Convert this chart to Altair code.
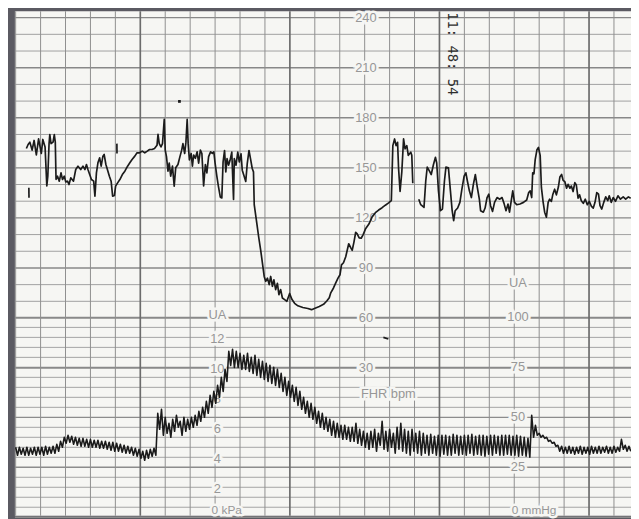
import altair as alt
import pandas as pd

# ---------------- data (time in s, FHR in bpm, UA in mmHg) ----------------
vgrid_minor = [10, 20, 30, 40, 50, 70, 80, 90, 100, 110, 130, 140, 150, 160, 170,
               190, 200, 210, 220, 230, 250]
vgrid_major = [60, 120, 180, 240]
fhr_grid_minor = [70, 80, 100, 110, 130, 140, 160, 170, 190, 200, 220, 230]
fhr_grid_major = [30, 60, 90, 120, 150, 180, 210, 240]
ua_grid_minor = [5, 10, 15, 20, 30, 35, 40, 45, 55, 60, 65, 70, 80, 85, 90, 95]
ua_grid_major = [0, 25, 50, 75, 100]

fhr_label_values = [240, 210, 180, 150, 120, 90, 60, 30]
ua_right_values = [100, 75, 50, 25]
ua_left_kpa = [12, 10, 8, 6, 4, 2]
timestamp = "11: 48: 54"

# FHR trace, part 1
fhr_a_t = [14.3, 15.0, 15.7, 16.6, 17.4, 18.3, 19.2, 20.3, 20.9, 21.8, 22.5, 22.9, 23.4, 23.7,
           24.2, 25.0, 25.5, 25.9, 26.2, 26.8, 27.5, 28.2, 28.8, 29.5, 30.1, 30.8, 31.4, 32.1,
           33.2, 34.1, 35.0, 36.1, 37.0, 37.8, 38.4, 39.0, 39.7, 40.4, 41.3, 41.8, 42.4, 43.0,
           43.7, 44.3, 45.0, 45.5, 46.2, 46.8, 47.6, 48.3, 48.9, 49.6, 50.1, 50.9, 51.8, 52.8,
           53.8, 54.9, 55.8, 56.7, 57.8, 58.7, 59.7, 60.8, 61.8, 62.8, 63.7, 64.7, 65.7, 66.7,
           67.1, 67.6, 68.3, 68.9, 69.6, 70.0, 70.5, 71.1, 71.6, 72.2, 72.9, 73.6, 74.2, 75.1,
           75.9, 76.6, 77.1, 77.8, 78.3, 78.8, 79.2, 79.7, 80.4, 80.9, 81.4, 82.1, 82.8, 83.4,
           84.1, 84.7, 85.4, 86.1, 86.7, 87.4, 88.2, 88.9, 89.5, 90.0, 90.7, 91.3, 92.1, 92.7,
           93.2, 93.8, 94.3, 94.8, 95.4, 96.0, 96.7, 97.4, 97.7, 98.4, 99.1, 99.7, 100.4, 100.9,
           101.5, 102.3, 102.9, 103.6, 104.2, 104.9, 105.4, 105.7, 106.6, 107.5, 108.3, 109.0,
           109.7, 110.3, 111.0, 111.7, 112.3, 113.0, 113.6, 114.3, 115.0, 115.6, 116.3, 117.0,
           117.9, 118.8, 119.9, 120.8, 121.9, 123.2, 125.2, 127.2, 128.7, 130.1, 131.8, 133.5,
           134.8, 135.8, 136.4, 137.5, 138.4, 139.3, 140.1, 140.7, 141.5, 142.4, 143.0, 143.6,
           144.4, 145.0, 145.7, 146.4, 147.0, 147.8, 148.6, 149.4, 150.3, 151.7, 153.0, 154.3,
           155.6, 157.0, 158.3, 159.6, 160.7, 161.3, 162.0, 162.6, 163.2, 163.6, 164.2, 164.9,
           165.6, 166.2, 166.9, 167.5, 168.5, 168.9, 169.3]
fhr_a_bpm = [161.6, 164.0, 165.4, 160.6, 166.4, 157.7, 167.4, 158.6, 167.0, 162.5, 139.2, 145.0,
             164.5, 169.9, 164.5, 165.4, 169.9, 165.4, 143.1, 145.0, 142.0, 147.0, 143.0, 145.0,
             141.6, 142.0, 140.0, 144.0, 142.0, 149.0, 151.0, 149.0, 151.0, 149.0, 152.0, 149.0,
             146.0, 143.0, 142.0, 133.0, 147.0, 153.0, 156.0, 151.0, 157.0, 158.0, 152.0, 149.0,
             145.0, 142.0, 133.0, 133.4, 139.0, 141.0, 143.0, 146.0, 148.0, 151.0, 153.0, 155.0,
             157.0, 159.0, 159.0, 160.0, 159.0, 160.0, 161.0, 161.0, 161.6, 163.5, 170.0, 164.5,
             162.5, 164.5, 179.0, 160.6, 156.7, 148.0, 152.8, 145.0, 151.0, 139.0, 150.0, 152.0,
             156.7, 160.6, 164.5, 158.6, 165.4, 179.0, 164.5, 154.8, 158.6, 151.0, 157.7, 155.7,
             159.6, 152.8, 160.6, 158.6, 139.2, 152.0, 147.0, 156.7, 159.6, 158.6, 159.6, 152.8,
             145.0, 139.2, 132.4, 132.0, 153.5, 160.4, 147.6, 155.5, 151.6, 154.5, 159.4, 131.0,
             155.5, 151.6, 159.4, 153.5, 158.4, 148.6, 145.7, 141.8, 152.5, 160.4, 155.5, 149.6,
             147.6, 128.0, 118.2, 108.4, 100.6, 92.7, 84.9, 82.0, 83.9, 80.0, 84.9, 79.0, 82.9,
             77.0, 80.8, 74.0, 77.0, 72.0, 71.0, 70.0, 74.7, 71.2, 68.8, 67.3, 66.3, 65.7, 65.0,
             65.9, 66.9, 68.2, 70.2, 72.2, 75.1, 78.0, 81.0, 83.9, 85.9, 91.8, 93.1, 96.7, 100.6,
             104.5, 102.2, 100.6, 105.5, 111.4, 110.4, 108.0, 107.8, 110.0, 113.3, 116.3, 120.6,
             123.1, 124.7, 126.1, 127.6, 129.0, 130.4, 163.3, 167.3, 163.3, 165.3, 149.6, 135.9,
             147.6, 167.3, 161.4, 163.3, 157.5, 159.4, 157.5, 140.8]

# FHR trace, part 2 (after the signal gap)
fhr_b_t = [171.7, 172.5, 173.8, 174.5, 175.1, 176.0, 176.7, 177.6, 178.4, 178.9, 179.6, 180.4,
           181.2, 182.0, 182.6, 183.6, 184.4, 185.1, 185.7, 186.3, 187.3, 188.2, 189.0, 189.9,
           190.6, 191.2, 192.0, 192.8, 193.6, 194.4, 195.2, 196.0, 196.5, 197.6, 198.3, 199.1,
           199.8, 200.5, 201.3, 202.1, 203.1, 204.2, 205.1, 205.9, 206.7, 207.5, 208.1, 208.8,
           209.4, 210.1, 211.0, 212.3, 213.7, 215.0, 215.8, 216.4, 217.0, 217.4, 217.9, 218.4,
           219.1, 219.7, 220.4, 220.9, 221.6, 222.2, 222.9, 223.6, 224.2, 224.9, 225.5, 226.2,
           226.9, 227.7, 228.3, 229.0, 229.6, 230.3, 231.0, 231.6, 232.3, 232.9, 233.6, 234.3,
           234.9, 235.6, 236.2, 236.9, 237.7, 238.5, 239.3, 240.1, 240.9, 241.7, 242.4, 243.1,
           243.8, 244.4, 245.1, 245.9, 246.7, 247.5, 248.1, 248.9, 249.7, 250.6, 251.6, 252.6,
           253.7, 254.7, 255.8, 256.7]
fhr_b_bpm = [131.2, 127.9, 126.3, 142.1, 150.4, 148.0, 146.0, 152.0, 156.3, 152.9, 136.2, 124.3,
             125.3, 142.1, 150.4, 150.0, 136.2, 124.3, 118.4, 124.3, 125.9, 129.3, 137.2, 145.0,
             147.0, 142.1, 136.2, 132.2, 140.1, 146.0, 138.1, 131.2, 124.3, 123.4, 125.9, 132.2,
             134.2, 127.3, 123.9, 129.3, 132.2, 131.2, 132.2, 128.7, 124.3, 128.3, 123.4, 130.3,
             136.2, 129.3, 127.9, 128.3, 129.3, 130.7, 135.2, 136.2, 132.2, 147.0, 146.4, 154.9,
             160.8, 162.2, 157.5, 138.1, 129.3, 123.4, 120.4, 129.3, 131.2, 129.9, 134.2, 137.2,
             133.8, 138.5, 144.5, 146.0, 142.5, 141.7, 137.8, 140.1, 137.8, 139.1, 135.8, 141.1,
             139.7, 131.8, 133.8, 130.3, 128.7, 131.2, 127.9, 129.9, 127.1, 125.9, 129.3, 135.2,
             134.2, 127.3, 125.3, 129.3, 132.6, 130.3, 133.2, 129.3, 132.2, 129.9, 133.2, 131.2,
             132.6, 131.2, 132.6, 131.8]

# isolated pen marks on the FHR channel
tick1_t = [15.3, 15.35]
tick1_bpm = [138.0, 132.0]
tick2_t = [50.6, 50.65]
tick2_bpm = [164.5, 158.6]
dash_t = [157.5, 159.5]
dash_bpm = [48.4, 47.4]
dot_t = [75.7]
dot_bpm = [189.8]

# UA trace sampled every 0.75 s from t = 10 s
ua_start = 10.0
ua_step = 0.75
ua_mmhg = [
    35, 31, 35, 31.5, 34.5, 31, 35, 31, 34.5, 31.5, 35, 31, 35, 31.5, 35, 31, 35.5, 31.5, 35, 32,
    35.5, 32, 36.5, 33, 38, 35, 40, 37, 41, 37.5, 40.5, 36.5, 40, 36, 39.5, 35.5, 39.5, 35.5, 39, 35,
    39, 35, 38.5, 35, 38.5, 34.5, 38, 34.5, 38, 34, 37.5, 33.5, 37.5, 33, 37, 33, 36.5, 32.5, 36, 32,
    35.5, 32, 35, 31, 34.5, 30.5, 34, 29.5, 33, 28.5, 33.5, 29.5, 34, 30.5, 34.5, 31, 52, 44, 54, 41,
    50, 42, 47, 40, 49, 43, 51, 45, 48, 41, 50, 43, 49, 44, 50, 45, 51, 46, 53, 48,
    55, 50, 58, 52, 61, 55, 63, 57, 66, 60, 70, 63, 74, 68, 83, 76, 84, 75, 83, 75,
    82, 74, 81, 74, 82, 73, 80, 72, 81, 71, 79, 70, 78, 69, 77, 68, 76, 67, 75, 66,
    74, 65, 72, 63, 70, 61, 68, 60, 66, 58, 65, 56, 63, 54, 60, 52, 58, 50, 57, 49,
    55, 47, 53, 45, 52, 44, 50, 43, 49, 41, 48, 40, 47, 40, 46, 39, 46, 39, 45, 38,
    45, 38, 47, 37, 44, 36, 43, 35, 42, 34, 43, 35, 44, 33, 42, 36, 48, 34, 43, 33,
    44, 35, 42, 32, 45, 34, 47, 33, 44, 32, 43, 31, 44, 33, 42, 32, 43, 31, 42, 32,
    41, 31, 41.5, 32, 40.5, 31, 41, 30.5, 41, 31.5, 41, 31, 40.5, 31, 41.5, 32, 41, 31, 40.5, 31.5,
    41, 31, 41, 32, 41.5, 31, 40.5, 31.5, 41, 31, 41, 30.5, 40.5, 31.5, 41, 31, 41, 32, 40.5, 31,
    41, 31, 41, 31.5, 41, 31, 40.5, 31, 41, 30.5, 40.5, 31, 40, 30.5, 39.5, 30, 51, 40, 46, 41,
    42, 40, 41, 39.5, 40, 38, 38.5, 37, 37.5, 35.5, 36, 33, 35.5, 32, 35, 32, 35.5, 32, 35, 31.5,
    35, 32, 35.5, 31.5, 35, 32, 35, 31.5, 35.5, 32, 35, 32, 35.5, 32, 35, 32.5, 35.5, 32, 35, 32,
    35.5, 32.5, 35, 33, 39, 34, 36, 33, 35.5, 33,
]

# ---------------- scales ----------------
PAPER = "#f6f6f3"
T_SCALE = alt.Scale(domain=[9.703, 256.832], nice=False, zero=False)
FHR_SCALE = alt.Scale(domain=[-58.52, 243.846], nice=False, zero=False)
UA_SCALE = alt.Scale(domain=[0.741, 253.21], nice=False, zero=False)


def xt(field="t"):
    return alt.X(f"{field}:Q", scale=T_SCALE, axis=None)


def yf(field="bpm"):
    return alt.Y(f"{field}:Q", scale=FHR_SCALE, axis=None)


def yu(field="mmhg"):
    return alt.Y(f"{field}:Q", scale=UA_SCALE, axis=None)


layers = []

# grid
layers.append(alt.Chart(pd.DataFrame({"mmhg": ua_grid_minor})).mark_rule(
    color="#a4a4a4", strokeWidth=1).encode(y=yu()))
layers.append(alt.Chart(pd.DataFrame({"mmhg": ua_grid_major})).mark_rule(
    color="#8c8c8c", strokeWidth=1.4).encode(y=yu()))
layers.append(alt.Chart(pd.DataFrame({"bpm": fhr_grid_minor})).mark_rule(
    color="#a0a0a0", strokeWidth=1).encode(y=yf()))
layers.append(alt.Chart(pd.DataFrame({"bpm": fhr_grid_major})).mark_rule(
    color="#888888", strokeWidth=1.4).encode(y=yf()))
layers.append(alt.Chart(pd.DataFrame({"t": vgrid_minor})).mark_rule(
    color="#8e8e8e", strokeWidth=1).encode(x=xt()))
layers.append(alt.Chart(pd.DataFrame({"t": vgrid_major})).mark_rule(
    color="#6c6c6c", strokeWidth=1.7).encode(x=xt()))

LABEL_FONT = "Liberation Sans"
LABEL_COLOR = "#979797"


def halo_text(df, x, yenc, size=13, align="center", dy=0):
    base = alt.Chart(df)
    halo = base.mark_text(font=LABEL_FONT, fontSize=size, align=align, baseline="middle",
                          dy=dy, color=PAPER, stroke=PAPER, strokeWidth=5).encode(
        x=x, y=yenc, text="txt:N")
    txt = base.mark_text(font=LABEL_FONT, fontSize=size, align=align, baseline="middle",
                         dy=dy, color=LABEL_COLOR).encode(x=x, y=yenc, text="txt:N")
    return [halo, txt]


# FHR scale labels
fhr_lab = pd.DataFrame({"bpm": fhr_label_values, "txt": [str(v) for v in fhr_label_values]})
fhr_lab["t"] = 150.5
layers += halo_text(fhr_lab, xt(), yf())

fhr_title = pd.DataFrame({"t": [159.5], "bpm": [14.6], "txt": ["FHR bpm"]})
layers += halo_text(fhr_title, xt(), yf())

# UA right (mmHg) labels
ua_r = pd.DataFrame({"mmhg": ua_right_values + [117.3],
                     "txt": [str(v) for v in ua_right_values] + ["UA"]})
ua_r["t"] = 211.5
layers += halo_text(ua_r, xt(), yu())
ua_r0 = pd.DataFrame({"t": [209.0], "mmhg": [3.6], "txt": ["0 mmHg"]})
layers += halo_text(ua_r0, xt(), yu(), size=12, align="left")

# UA left (kPa) labels
ua_l = pd.DataFrame({"mmhg": [k * 7.5 for k in ua_left_kpa] + [102.0],
                     "txt": [str(k) for k in ua_left_kpa] + ["UA"]})
ua_l["t"] = 90.9
layers += halo_text(ua_l, xt(), yu(), dy=2)
ua_l0 = pd.DataFrame({"t": [88.6], "mmhg": [3.6], "txt": ["0 kPa"]})
layers += halo_text(ua_l0, xt(), yu(), size=12, align="left")

# timestamp printed by the monitor
layers.append(alt.Chart(pd.DataFrame({"t": [185.0], "bpm": [243.3], "txt": [timestamp]})).mark_text(
    font="DejaVu Sans Mono", fontSize=14, angle=90, align="left", baseline="middle",
    color="#2e2e2e").encode(x=xt(), y=yf(), text="txt:N"))

# traces
INK = "#1b1b1b"
fhr_rows = []
for seg, (ts, vs) in enumerate([(fhr_a_t, fhr_a_bpm), (fhr_b_t, fhr_b_bpm), (tick1_t, tick1_bpm),
                                (tick2_t, tick2_bpm), (dash_t, dash_bpm)]):
    for i, (t, v) in enumerate(zip(ts, vs)):
        fhr_rows.append({"t": t, "bpm": v, "seg": seg, "i": i})
fhr_df = pd.DataFrame(fhr_rows)
layers.append(alt.Chart(fhr_df).mark_line(color=INK, strokeWidth=1.7, strokeJoin="round").encode(
    x=xt(), y=yf(), detail="seg:N", order="i:Q"))
layers.append(alt.Chart(pd.DataFrame({"t": dot_t, "bpm": dot_bpm})).mark_square(
    color=INK, size=8, opacity=1).encode(x=xt(), y=yf()))

ua_df = pd.DataFrame({"t": [ua_start + ua_step * i for i in range(len(ua_mmhg))], "mmhg": ua_mmhg})
layers.append(alt.Chart(ua_df).mark_line(color=INK, strokeWidth=1.6, strokeJoin="round").encode(
    x=xt(), y=yu()))

chart = alt.layer(*layers).resolve_scale(y="independent").properties(
    width=624, height=511, background="#5b5a62",
    padding={"left": 7, "top": 0, "right": 0, "bottom": 0},
    autosize=alt.AutoSizeParams(type="none"),
).configure_view(fill=PAPER, stroke=None)

chart.save("out.html", embed_options={"renderer": "svg", "actions": False})
